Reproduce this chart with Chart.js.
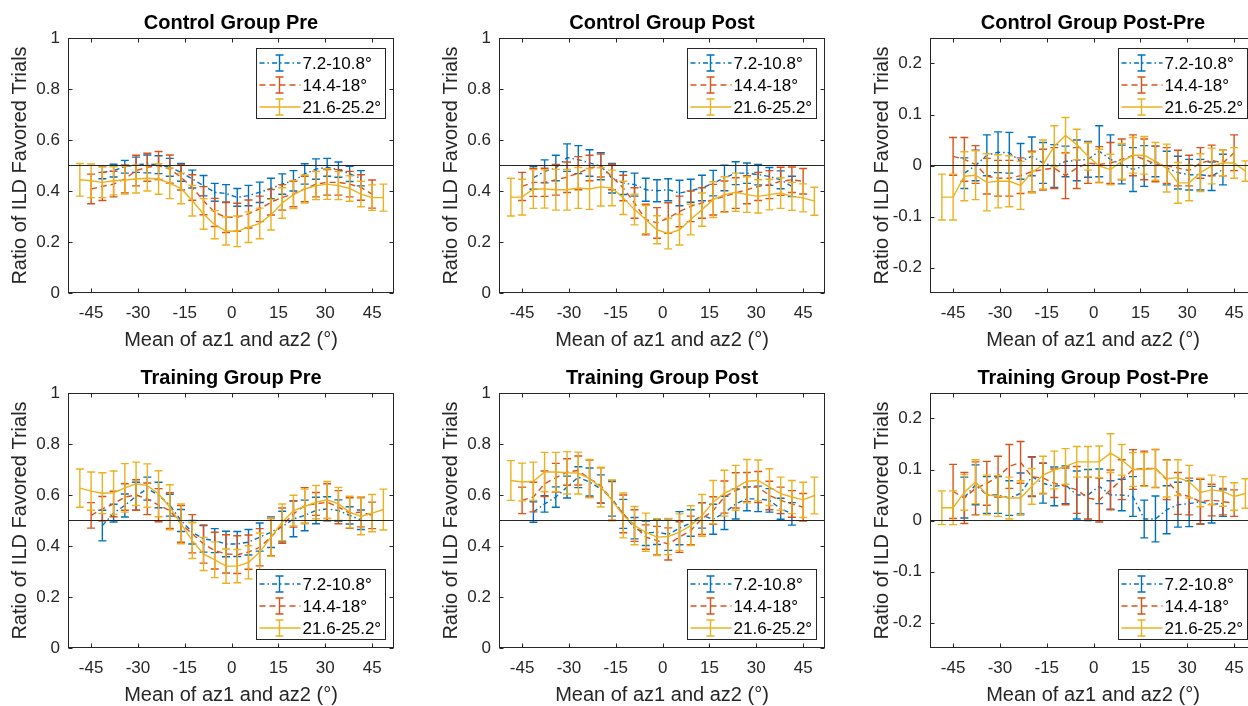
<!DOCTYPE html>
<html lang="en">
<head>
<meta charset="UTF-8">
<title>Ratio of ILD Favored Trials</title>
<script src="https://cdn.jsdelivr.net/npm/chart.js"></script>
<style>
  body { margin: 0; background: #fff; overflow: hidden; width: 1248px; height: 706px; position: relative; }
  canvas { position: absolute; }
</style>
</head>
<body>
<canvas id="ctrlPre" width="414" height="355" style="left:0;top:0"></canvas>
<canvas id="ctrlPost" width="414" height="355" style="left:431px;top:0"></canvas>
<canvas id="ctrlDiff" width="414" height="355" style="left:862px;top:0"></canvas>
<canvas id="trainPre" width="414" height="355" style="left:0;top:355px"></canvas>
<canvas id="trainPost" width="414" height="355" style="left:431px;top:355px"></canvas>
<canvas id="trainDiff" width="414" height="355" style="left:862px;top:355px"></canvas>
<script>
// x positions (mean of az1 and az2, deg) for each separation group
const xBlue = [-41.4, -37.8, -34.2, -30.6, -27, -23.4, -19.8, -16.2, -12.6, -9, -5.4, -1.8,
  1.8, 5.4, 9, 12.6, 16.2, 19.8, 23.4, 27, 30.6, 34.2, 37.8, 41.4];
const xRed = [-45, -41.4, -37.8, -34.2, -30.6, -27, -23.4, -19.8, -16.2, -12.6, -9, -5.4, -1.8,
  1.8, 5.4, 9, 12.6, 16.2, 19.8, 23.4, 27, 30.6, 34.2, 37.8, 41.4, 45];
const xYellow = [-48.6, -45, -41.4, -37.8, -34.2, -30.6, -27, -23.4, -19.8, -16.2, -12.6, -9, -5.4, -1.8,
  1.8, 5.4, 9, 12.6, 16.2, 19.8, 23.4, 27, 30.6, 34.2, 37.8, 41.4, 45, 48.6];

const xTicks = [-45, -30, -15, 0, 15, 30, 45];
const ratioTicks = [0, 0.2, 0.4, 0.6, 0.8, 1];
const diffTicks = [-0.2, -0.1, 0, 0.1, 0.2];
const seriesLabels = ['7.2-10.8°', '14.4-18°', '21.6-25.2°'];

// Control group, pre
const ctrlPreBlue = [0.473, 0.48, 0.495, 0.503, 0.506, 0.503, 0.493, 0.473, 0.447, 0.421, 0.395, 0.39,
  0.375, 0.382, 0.395, 0.41, 0.427, 0.44, 0.467, 0.486, 0.493, 0.484, 0.467, 0.45];
const ctrlPreBlueErr = [0.025, 0.025, 0.025, 0.03, 0.035, 0.035, 0.035, 0.035, 0.035, 0.04, 0.035, 0.035,
  0.035, 0.04, 0.04, 0.04, 0.04, 0.04, 0.04, 0.04, 0.035, 0.03, 0.03, 0.03];
const ctrlPreRed = [0.408, 0.418, 0.427, 0.447, 0.48, 0.493, 0.5, 0.486, 0.454, 0.414, 0.362, 0.316, 0.297,
  0.297, 0.31, 0.33, 0.356, 0.375, 0.388, 0.408, 0.427, 0.434, 0.434, 0.427, 0.414, 0.388];
const ctrlPreRedErr = [0.058, 0.055, 0.05, 0.055, 0.06, 0.055, 0.055, 0.055, 0.05, 0.05, 0.055, 0.055, 0.06,
  0.055, 0.055, 0.05, 0.05, 0.05, 0.05, 0.05, 0.05, 0.05, 0.05, 0.05, 0.05, 0.055];
const ctrlPreYellow = [0.444, 0.44, 0.434, 0.44, 0.443, 0.447, 0.45, 0.447, 0.43, 0.41, 0.362, 0.31, 0.268, 0.243,
  0.242, 0.258, 0.273, 0.307, 0.353, 0.386, 0.408, 0.421, 0.427, 0.421, 0.41, 0.388, 0.374, 0.374];
const ctrlPreYellowErr = [0.064, 0.066, 0.06, 0.055, 0.055, 0.055, 0.05, 0.06, 0.06, 0.06, 0.06, 0.06, 0.055, 0.055,
  0.06, 0.06, 0.06, 0.06, 0.06, 0.055, 0.055, 0.055, 0.06, 0.055, 0.05, 0.05, 0.05, 0.053];

// Control group, post
const ctrlPostBlue = [0.452, 0.477, 0.49, 0.531, 0.523, 0.51, 0.497, 0.45, 0.431, 0.425, 0.405, 0.401,
  0.405, 0.392, 0.401, 0.412, 0.431, 0.451, 0.47, 0.47, 0.464, 0.457, 0.444, 0.418];
const ctrlPostBlueErr = [0.045, 0.045, 0.05, 0.054, 0.055, 0.052, 0.053, 0.058, 0.045, 0.045, 0.045, 0.043,
  0.043, 0.05, 0.045, 0.05, 0.05, 0.05, 0.045, 0.04, 0.04, 0.035, 0.035, 0.04];
const ctrlPostRed = [0.418, 0.434, 0.434, 0.444, 0.454, 0.47, 0.49, 0.5, 0.455, 0.412, 0.353, 0.288, 0.275,
  0.294, 0.32, 0.34, 0.353, 0.366, 0.379, 0.392, 0.405, 0.418, 0.425, 0.438, 0.444, 0.438];
const ctrlPostRedErr = [0.055, 0.055, 0.055, 0.06, 0.06, 0.065, 0.05, 0.045, 0.05, 0.05, 0.06, 0.06, 0.06,
  0.06, 0.06, 0.06, 0.06, 0.06, 0.06, 0.06, 0.055, 0.055, 0.055, 0.055, 0.05, 0.05];
const ctrlPostYellow = [0.376, 0.376, 0.408, 0.408, 0.405, 0.405, 0.412, 0.408, 0.416, 0.412, 0.373, 0.327, 0.288, 0.248,
  0.233, 0.248, 0.288, 0.327, 0.366, 0.386, 0.395, 0.386, 0.379, 0.386, 0.392, 0.379, 0.373, 0.36];
const ctrlPostYellowErr = [0.074, 0.07, 0.076, 0.075, 0.08, 0.08, 0.08, 0.08, 0.075, 0.07, 0.065, 0.06, 0.055, 0.055,
  0.06, 0.06, 0.06, 0.065, 0.07, 0.07, 0.075, 0.07, 0.065, 0.06, 0.06, 0.055, 0.055, 0.055];

// Control group, post minus pre
const ctrlDiffBlue = [-0.015, 0.0, 0.02, 0.026, 0.025, 0.008, 0.018, 0.005, -0.001, 0.008, 0.01, 0.012,
  0.028, 0.012, 0.002, -0.008, -0.001, 0.008, -0.005, -0.014, -0.018, -0.018, -0.021, -0.008];
const ctrlDiffBlueErr = [0.03, 0.03, 0.04, 0.04, 0.04, 0.035, 0.038, 0.04, 0.042, 0.03, 0.04, 0.035,
  0.05, 0.048, 0.038, 0.043, 0.04, 0.03, 0.033, 0.032, 0.03, 0.03, 0.028, 0.03];
const ctrlDiffRed = [0.018, 0.012, 0.002, -0.021, -0.025, -0.025, -0.02, -0.012, -0.008, -0.005, -0.02, -0.005, 0.005,
  0.002, 0.005, 0.012, 0.02, 0.012, 0.003, 0.0, -0.005, -0.01, 0.005, 0.01, 0.005, 0.025];
const ctrlDiffRedErr = [0.037, 0.043, 0.037, 0.035, 0.035, 0.035, 0.035, 0.04, 0.04, 0.04, 0.045, 0.04, 0.04,
  0.035, 0.04, 0.04, 0.04, 0.04, 0.035, 0.035, 0.035, 0.03, 0.03, 0.03, 0.025, 0.035];
const ctrlDiffYellow = [-0.062, -0.062, -0.021, -0.019, -0.033, -0.031, -0.031, -0.039, -0.014, 0.002, 0.038, 0.059, 0.041, 0.018,
  -0.001, -0.008, 0.008, 0.02, 0.02, 0.008, -0.005, -0.034, -0.034, -0.014, -0.001, 0.005, 0.005, -0.011];
const ctrlDiffYellowErr = [0.045, 0.045, 0.048, 0.048, 0.056, 0.052, 0.05, 0.047, 0.04, 0.048, 0.04, 0.035, 0.03, 0.027,
  0.033, 0.03, 0.035, 0.035, 0.037, 0.037, 0.047, 0.04, 0.035, 0.037, 0.035, 0.025, 0.03, 0.02];

// Training group, pre
const trainPreBlue = [0.48, 0.529, 0.559, 0.595, 0.625, 0.6, 0.56, 0.5, 0.454, 0.428, 0.421, 0.408,
  0.408, 0.415, 0.435, 0.454, 0.476, 0.506, 0.52, 0.539, 0.546, 0.539, 0.52, 0.503];
const trainPreBlueErr = [0.06, 0.035, 0.045, 0.055, 0.045, 0.05, 0.043, 0.043, 0.046, 0.052, 0.047, 0.05,
  0.049, 0.05, 0.055, 0.06, 0.06, 0.07, 0.06, 0.052, 0.047, 0.042, 0.034, 0.038];
const trainPreRed = [0.52, 0.546, 0.565, 0.592, 0.6, 0.585, 0.56, 0.539, 0.487, 0.448, 0.408, 0.382, 0.369,
  0.366, 0.376, 0.395, 0.435, 0.48, 0.526, 0.559, 0.565, 0.572, 0.552, 0.529, 0.533, 0.52];
const trainPreRedErr = [0.05, 0.048, 0.05, 0.052, 0.06, 0.062, 0.065, 0.07, 0.072, 0.075, 0.075, 0.072, 0.075,
  0.074, 0.067, 0.073, 0.073, 0.069, 0.052, 0.07, 0.045, 0.072, 0.065, 0.06, 0.058, 0.052];
const trainPreYellow = [0.627, 0.615, 0.607, 0.609, 0.628, 0.644, 0.637, 0.605, 0.552, 0.487, 0.421, 0.369, 0.346, 0.321,
  0.321, 0.336, 0.376, 0.435, 0.493, 0.539, 0.555, 0.572, 0.581, 0.565, 0.533, 0.516, 0.529, 0.543];
const trainPreYellowErr = [0.075, 0.075, 0.08, 0.085, 0.095, 0.085, 0.085, 0.09, 0.088, 0.078, 0.07, 0.065, 0.07, 0.067,
  0.065, 0.065, 0.075, 0.075, 0.072, 0.06, 0.068, 0.065, 0.072, 0.065, 0.062, 0.072, 0.073, 0.08];

// Training group, post
const trainPostBlue = [0.533, 0.565, 0.592, 0.631, 0.67, 0.651, 0.624, 0.585, 0.526, 0.47, 0.45, 0.455,
  0.445, 0.47, 0.49, 0.52, 0.505, 0.53, 0.565, 0.585, 0.585, 0.579, 0.546, 0.526];
const trainPostBlueErr = [0.04, 0.032, 0.04, 0.043, 0.041, 0.055, 0.055, 0.068, 0.057, 0.042, 0.048, 0.049,
  0.062, 0.065, 0.052, 0.05, 0.059, 0.065, 0.059, 0.047, 0.05, 0.046, 0.041, 0.044];
const trainPostRed = [0.579, 0.592, 0.644, 0.668, 0.69, 0.696, 0.664, 0.637, 0.579, 0.526, 0.48, 0.435, 0.421,
  0.408, 0.435, 0.461, 0.507, 0.539, 0.592, 0.618, 0.631, 0.631, 0.598, 0.579, 0.565, 0.552];
const trainPostRedErr = [0.052, 0.058, 0.05, 0.056, 0.052, 0.057, 0.073, 0.07, 0.078, 0.074, 0.062, 0.048, 0.056,
  0.063, 0.06, 0.056, 0.062, 0.054, 0.063, 0.069, 0.057, 0.061, 0.056, 0.052, 0.052, 0.054];
const trainPostYellow = [0.657, 0.651, 0.654, 0.69, 0.69, 0.687, 0.686, 0.664, 0.631, 0.579, 0.52, 0.48, 0.454, 0.435,
  0.437, 0.454, 0.48, 0.52, 0.572, 0.607, 0.628, 0.654, 0.657, 0.631, 0.605, 0.592, 0.581, 0.598];
const trainPostYellowErr = [0.078, 0.074, 0.075, 0.077, 0.077, 0.083, 0.082, 0.075, 0.078, 0.08, 0.088, 0.075, 0.075, 0.072,
  0.071, 0.072, 0.078, 0.082, 0.085, 0.09, 0.088, 0.085, 0.08, 0.072, 0.065, 0.065, 0.069, 0.072];

// Training group, post minus pre
const trainDiffBlue = [0.045, 0.07, 0.05, 0.05, 0.044, 0.053, 0.086, 0.073, 0.067, 0.07, 0.05, 0.05,
  0.067, 0.05, 0.05, 0.047, 0.003, 0.003, 0.021, 0.031, 0.033, 0.037, 0.031, 0.034];
const trainDiffBlueErr = [0.04, 0.039, 0.036, 0.036, 0.034, 0.04, 0.039, 0.039, 0.038, 0.037, 0.047, 0.05,
  0.034, 0.028, 0.031, 0.039, 0.037, 0.045, 0.047, 0.044, 0.045, 0.044, 0.036, 0.026];
const trainDiffRed = [0.057, 0.044, 0.063, 0.073, 0.086, 0.106, 0.114, 0.086, 0.083, 0.073, 0.067, 0.06, 0.044,
  0.04, 0.06, 0.08, 0.1, 0.102, 0.102, 0.08, 0.053, 0.047, 0.037, 0.04, 0.037, 0.034];
const trainDiffRedErr = [0.053, 0.05, 0.052, 0.043, 0.04, 0.043, 0.041, 0.038, 0.03, 0.028, 0.036, 0.046, 0.041,
  0.043, 0.039, 0.039, 0.039, 0.034, 0.037, 0.039, 0.041, 0.036, 0.044, 0.031, 0.026, 0.026];
const trainDiffYellow = [0.025, 0.025, 0.055, 0.076, 0.05, 0.048, 0.044, 0.044, 0.067, 0.089, 0.099, 0.106, 0.115, 0.115,
  0.115, 0.132, 0.119, 0.1, 0.1, 0.102, 0.082, 0.084, 0.076, 0.055, 0.06, 0.057, 0.047, 0.053];
const trainDiffYellowErr = [0.033, 0.033, 0.035, 0.043, 0.039, 0.04, 0.041, 0.034, 0.035, 0.037, 0.037, 0.035, 0.03, 0.03,
  0.031, 0.038, 0.03, 0.033, 0.033, 0.038, 0.036, 0.035, 0.032, 0.028, 0.029, 0.029, 0.027, 0.029];

const X_MIN = -52.4, X_MAX = 52;
const COLORS = ['#0072BD', '#D95319', '#EDB120'];
const DASHES = [[5, 3, 1.5, 3], [6, 4], []];
const AXIS = '#262626';
const FONT = "'Liberation Sans', Arial, sans-serif";
const LW = 1.4;

// vertical error bars with caps, drawn right after each series' line
const errorBars = {
  id: 'errorBars',
  afterDatasetDraw(chart, args) {
    const ds = chart.data.datasets[args.index];
    if (!ds.err) return;
    const { ctx, chartArea: ca } = chart;
    const xs = chart.scales.x, ys = chart.scales.y;
    ctx.save();
    ctx.beginPath();
    ctx.rect(ca.left, ca.top, ca.right - ca.left, ca.bottom - ca.top);
    ctx.clip();
    ctx.strokeStyle = ds.borderColor;
    ctx.lineWidth = LW;
    ctx.setLineDash([]);
    ds.data.forEach((p, i) => {
      const px = xs.getPixelForValue(p.x);
      const top = ys.getPixelForValue(p.y + ds.err[i]);
      const bot = ys.getPixelForValue(p.y - ds.err[i]);
      ctx.beginPath();
      ctx.moveTo(px, top); ctx.lineTo(px, bot);
      ctx.moveTo(px - 4, top); ctx.lineTo(px + 4, top);
      ctx.moveTo(px - 4, bot); ctx.lineTo(px + 4, bot);
      ctx.stroke();
    });
    ctx.restore();
  }
};

// MATLAB-like box with inward ticks, plus the legend
const panelDecor = {
  id: 'panelDecor',
  afterDraw(chart, args, opts) {
    const { ctx, chartArea: ca } = chart;
    const xs = chart.scales.x, ys = chart.scales.y;
    ctx.save();
    ctx.strokeStyle = AXIS;
    ctx.lineWidth = 1;
    ctx.setLineDash([]);
    const L = Math.round(ca.left) + 0.5, R = Math.round(ca.right) - 0.5;
    const T = Math.round(ca.top) + 0.5, B = Math.round(ca.bottom) - 0.5;
    ctx.strokeRect(L, T, R - L, B - T);
    ctx.beginPath();
    xs.ticks.forEach(t => {
      const px = Math.round(xs.getPixelForValue(t.value)) + 0.5;
      ctx.moveTo(px, B); ctx.lineTo(px, B - 4);
      ctx.moveTo(px, T); ctx.lineTo(px, T + 4);
    });
    ys.ticks.forEach(t => {
      const py = Math.round(ys.getPixelForValue(t.value)) + 0.5;
      ctx.moveTo(L, py); ctx.lineTo(L + 4, py);
      ctx.moveTo(R, py); ctx.lineTo(R - 4, py);
    });
    ctx.stroke();

    // legend
    const bw = 129, bh = 70;
    const bx = Math.round(ca.right - 9 - bw) + 0.5;
    const by = Math.round(opts.legendAt === 'ne' ? ca.top + 10 : ca.bottom - 9 - bh) + 0.5;
    ctx.fillStyle = '#fff';
    ctx.fillRect(bx, by, bw, bh);
    ctx.strokeRect(bx, by, bw, bh);
    ctx.font = '17px ' + FONT;
    ctx.textBaseline = 'middle';
    ctx.textAlign = 'left';
    seriesLabels.forEach((lab, k) => {
      const y = by + 14.5 + 22 * k;
      ctx.strokeStyle = COLORS[k];
      ctx.lineWidth = LW;
      ctx.setLineDash(DASHES[k]);
      ctx.beginPath();
      ctx.moveTo(bx + 3, y); ctx.lineTo(bx + 44, y);
      ctx.stroke();
      ctx.setLineDash([]);
      const ex = bx + 23;
      ctx.beginPath();
      ctx.moveTo(ex, y - 8); ctx.lineTo(ex, y + 8);
      ctx.moveTo(ex - 4, y - 8); ctx.lineTo(ex + 4, y - 8);
      ctx.moveTo(ex - 4, y + 8); ctx.lineTo(ex + 4, y + 8);
      ctx.stroke();
      ctx.fillStyle = '#000';
      ctx.fillText(lab, bx + 46, y + 1);
    });
    ctx.restore();
  }
};

function makePanel(id, title, series, yMin, yMax, yTicks, refY, legendAt) {
  const xsets = [xBlue, xRed, xYellow];
  const datasets = series.map((s, k) => ({
    label: seriesLabels[k],
    data: xsets[k].map((x, i) => ({ x: x, y: s[0][i] })),
    err: s[1],
    borderColor: COLORS[k],
    borderWidth: LW,
    borderDash: DASHES[k],
    pointRadius: 0,
    tension: 0,
    fill: false,
    order: 2 - k
  }));
  datasets.push({
    label: 'ref',
    data: [{ x: X_MIN, y: refY }, { x: X_MAX, y: refY }],
    borderColor: AXIS,
    borderWidth: 1,
    pointRadius: 0,
    order: -1
  });

  new Chart(document.getElementById(id), {
    type: 'line',
    data: { datasets: datasets },
    options: {
      responsive: false,
      animation: false,
      events: [],
      layout: { padding: { right: 20 } },
      plugins: {
        legend: { display: false },
        tooltip: { enabled: false },
        title: {
          display: true, text: title, color: '#000', fullSize: false,
          font: { family: FONT, size: 20, weight: 'bold' },
          padding: { top: 11, bottom: 3 }
        },
        panelDecor: { legendAt: legendAt }
      },
      scales: {
        x: {
          type: 'linear', min: X_MIN, max: X_MAX,
          afterBuildTicks: s => { s.ticks = xTicks.map(v => ({ value: v })); },
          afterFit: s => { s.height = 62; },
          grid: { display: false, drawTicks: false },
          border: { display: false },
          ticks: { autoSkip: false, maxRotation: 0, padding: 10, color: AXIS,
            font: { family: FONT, size: 17 }, callback: v => String(v) },
          title: { display: true, text: 'Mean of az1 and az2 (°)', color: AXIS,
            font: { family: FONT, size: 20 }, padding: { top: 0, bottom: 3 } }
        },
        y: {
          type: 'linear', min: yMin, max: yMax,
          afterBuildTicks: s => { s.ticks = yTicks.map(v => ({ value: v })); },
          afterFit: s => { s.width = 68; },
          grid: { display: false, drawTicks: false },
          border: { display: false },
          ticks: { padding: 8, color: AXIS, font: { family: FONT, size: 17 }, callback: v => String(v) },
          title: { display: true, text: 'Ratio of ILD Favored Trials', color: AXIS,
            font: { family: FONT, size: 20 }, padding: { top: 8, bottom: 0 } }
        }
      }
    },
    plugins: [errorBars, panelDecor]
  });
}

makePanel('ctrlPre', 'Control Group Pre',
  [[ctrlPreBlue, ctrlPreBlueErr], [ctrlPreRed, ctrlPreRedErr], [ctrlPreYellow, ctrlPreYellowErr]],
  0, 1, ratioTicks, 0.5, 'ne');
makePanel('ctrlPost', 'Control Group Post',
  [[ctrlPostBlue, ctrlPostBlueErr], [ctrlPostRed, ctrlPostRedErr], [ctrlPostYellow, ctrlPostYellowErr]],
  0, 1, ratioTicks, 0.5, 'ne');
makePanel('ctrlDiff', 'Control Group Post-Pre',
  [[ctrlDiffBlue, ctrlDiffBlueErr], [ctrlDiffRed, ctrlDiffRedErr], [ctrlDiffYellow, ctrlDiffYellowErr]],
  -0.25, 0.25, diffTicks, 0, 'ne');
makePanel('trainPre', 'Training Group Pre',
  [[trainPreBlue, trainPreBlueErr], [trainPreRed, trainPreRedErr], [trainPreYellow, trainPreYellowErr]],
  0, 1, ratioTicks, 0.5, 'se');
makePanel('trainPost', 'Training Group Post',
  [[trainPostBlue, trainPostBlueErr], [trainPostRed, trainPostRedErr], [trainPostYellow, trainPostYellowErr]],
  0, 1, ratioTicks, 0.5, 'se');
makePanel('trainDiff', 'Training Group Post-Pre',
  [[trainDiffBlue, trainDiffBlueErr], [trainDiffRed, trainDiffRedErr], [trainDiffYellow, trainDiffYellowErr]],
  -0.25, 0.25, diffTicks, 0, 'se');
</script>
</body>
</html>
